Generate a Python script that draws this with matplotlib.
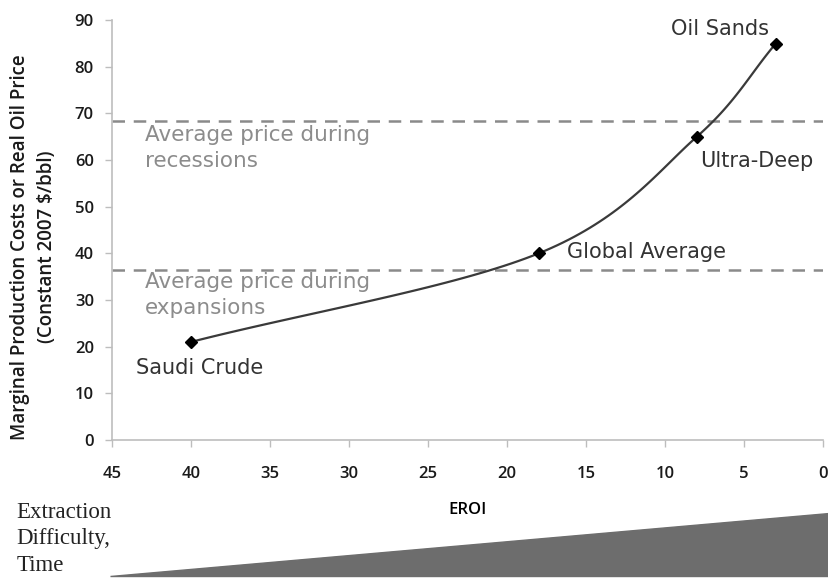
import numpy as np
import matplotlib
matplotlib.use("Agg")
import matplotlib.pyplot as plt
from matplotlib.patches import Polygon

# data
names = ["Saudi Crude", "Global Average", "Ultra-Deep", "Oil Sands"]
eroi = [40, 18, 8, 3]
cost = [21, 40, 65, 85]
recession_price = 68.3
expansion_price = 36.4


def smooth(xs, ys, n=40):
    # Catmull-Rom through the points, like a spreadsheet "smoothed line"
    p = np.column_stack([xs, ys]).astype(float)
    p = np.vstack([2 * p[0] - p[1], p, 2 * p[-1] - p[-2]])
    out = []
    t = np.linspace(0, 1, n)[:, None]
    for i in range(1, len(p) - 2):
        p0, p1, p2, p3 = p[i - 1], p[i], p[i + 1], p[i + 2]
        seg = 0.5 * ((2 * p1) + (-p0 + p2) * t + (2 * p0 - 5 * p1 + 4 * p2 - p3) * t**2
                     + (-p0 + 3 * p1 - 3 * p2 + p3) * t**3)
        out.append(seg)
    out = np.vstack(out)
    return out[:, 0], out[:, 1]


fig = plt.figure(figsize=(8.29, 5.78), dpi=100)
ax = fig.add_axes([0.135, 0.239, 0.858, 0.726])

sx, sy = smooth(eroi, cost)
ax.plot(sx, sy, color="#3a3a3a", lw=1.6, zorder=3)
ax.plot(eroi, cost, "D", color="black", ms=6, zorder=4)

for yv in (recession_price, expansion_price):
    ax.axhline(yv, color="#8a8a8a", lw=1.8, ls=(0, (5, 3.5)), zorder=2)

gray = "#8c8c8c"
fa = dict(fontsize=15.5, color=gray, va="center", family="DejaVu Sans")
ax.text(42.9, 65.3, "Average price during", **fa)
ax.text(42.9, 59.8, "recessions", **fa)
ax.text(42.9, 33.8, "Average price during", **fa)
ax.text(42.9, 28.3, "expansions", **fa)

dark = "#333333"
fp = dict(fontsize=15, color=dark, va="center", family="DejaVu Sans")
ax.text(43.5, 15.4, names[0], **fp)
ax.text(16.2, 40.3, names[1], **fp)
ax.text(7.8, 59.8, names[2], **fp)
ax.text(3.4, 88.2, names[3], ha="right", **fp)

ax.set_xlim(45, 0)
ax.set_ylim(0, 90)
ax.set_xticks(np.arange(45, -1, -5))
ax.set_yticks(np.arange(0, 91, 10))
for s in ("top", "right"):
    ax.spines[s].set_visible(False)
for s in ("left", "bottom"):
    ax.spines[s].set_color("#bdbdbd")
    ax.spines[s].set_linewidth(1.2)
ax.tick_params(colors="#bdbdbd", labelcolor="#1a1a1a", length=5, width=1, labelsize=12)
ax.tick_params(axis="x", pad=14)
ax.tick_params(axis="y", pad=8)
for lab in ax.get_xticklabels() + ax.get_yticklabels():
    lab.set_family("Open Sans")
    lab.set_weight("semibold")

ax.set_xlabel("EROI", fontsize=12, family="Open Sans", weight="semibold", labelpad=14)
fig.text(0.024, 0.573, "Marginal Production Costs or Real Oil Price",
         rotation=90, fontsize=13.5, family="Open Sans", weight="semibold",
         ha="center", va="center", color="#1a1a1a")
fig.text(0.057, 0.573, "(Constant 2007 $/bbl)",
         rotation=90, fontsize=13.5, family="Open Sans", weight="semibold",
         ha="center", va="center", color="#1a1a1a")

# extraction difficulty wedge
wedge = Polygon([[110 / 829, 1 - 576 / 578], [1.0, 1 - 576 / 578], [1.0, 1 - 513 / 578]],
                closed=True, transform=fig.transFigure, color="#6d6d6d")
fig.patches.append(wedge)
fig.text(0.02, 1 - 502 / 578, "Extraction\nDifficulty,\nTime", fontsize=16.5,
         family="Liberation Serif", linespacing=1.33, va="top", ha="left", color="#222222")

fig.savefig("out.png", dpi=100)
